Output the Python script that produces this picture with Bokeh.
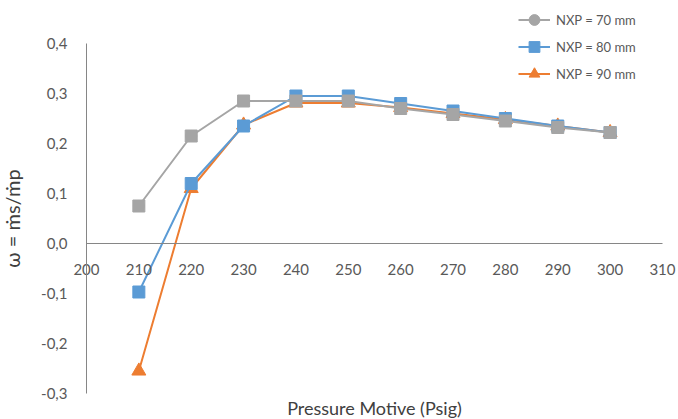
from bokeh.plotting import figure
from bokeh.models import LinearAxis, FixedTicker, Legend, LegendItem, Label, ColumnDataSource
from bokeh.embed import file_html
from bokeh.resources import INLINE

pressure = [210, 220, 230, 240, 250, 260, 270, 280, 290, 300]
nxp70 = [0.075, 0.215, 0.285, 0.285, 0.285, 0.270, 0.258, 0.245, 0.232, 0.222]
nxp80 = [-0.097, 0.120, 0.235, 0.295, 0.295, 0.280, 0.265, 0.250, 0.235, 0.222]
nxp90 = [-0.255, 0.110, 0.237, 0.281, 0.281, 0.272, 0.260, 0.248, 0.235, 0.222]

x_ticks = [200, 210, 220, 230, 240, 250, 260, 270, 280, 290, 300, 310]
y_ticks = [-0.3, -0.2, -0.1, 0.0, 0.1, 0.2, 0.3, 0.4]
y_tick_labels = ["-0,3", "-0,2", "-0,1", "0,0", "0,1", "0,2", "0,3", "0,4"]
series_names = ["NXP = 70 mm", "NXP = 80 mm", "NXP = 90 mm"]
x_label = "Pressure Motive (Psig)"
y_label = "ω = ṁs/ṁp"

FONT = "Lato"
TICK_COLOR = "#595959"
AXIS_COLOR = "#868686"

p = figure(width=678, height=419, output_backend="svg", toolbar_location=None,
           x_range=(183.58, 313.06), y_range=(-0.352, 0.486),
           x_axis_location=None, y_axis_location=None,
           min_border_top=0, min_border_right=0, min_border_left=0, min_border_bottom=0)
p.outline_line_color = None
p.grid.visible = False
p.background_fill_color = "white"

# y axis at x = 200
yax = LinearAxis(fixed_location=200, bounds=(-0.3, 0.4), ticker=FixedTicker(ticks=y_ticks))
yax.major_label_overrides = {t: l for t, l in zip(y_ticks, y_tick_labels)}
yax.minor_tick_line_color = None
yax.major_tick_line_color = None
yax.axis_line_color = AXIS_COLOR
yax.major_label_text_font = FONT
yax.major_label_text_font_size = "15px"
yax.major_label_text_color = TICK_COLOR
yax.major_label_standoff = 13
yax.axis_label = y_label
yax.axis_label_text_font = FONT
yax.axis_label_text_font_style = "normal"
yax.axis_label_text_font_size = "20px"
yax.axis_label_text_color = "#404040"
yax.axis_label_standoff = 14
p.add_layout(yax, "left")

# x axis at y = 0
xax = LinearAxis(fixed_location=0, bounds=(200, 310), ticker=FixedTicker(ticks=x_ticks))
xax.minor_tick_line_color = None
xax.major_tick_line_color = None
xax.axis_line_color = AXIS_COLOR
xax.major_label_text_font = FONT
xax.major_label_text_font_size = "15px"
xax.major_label_text_color = TICK_COLOR
xax.major_label_standoff = 14
p.add_layout(xax, "below")

p.add_layout(Label(x=255, y=-0.3, y_offset=-3, text=x_label, text_align="center",
                   text_baseline="top", text_font=FONT, text_font_size="18px",
                   text_color="#404040"))

src = ColumnDataSource(dict(x=pressure, a=nxp70, b=nxp80, c=nxp90))

gray, blue, orange = "#A5A5A5", "#5B9BD5", "#ED7D31"

l90 = p.line("x", "c", source=src, color=orange, line_width=2)
m90 = p.scatter("x", "c", source=src, marker="triangle", size=14, color=orange)
l80 = p.line("x", "b", source=src, color=blue, line_width=2)
m80 = p.scatter("x", "b", source=src, marker="square", size=12, color=blue)
l70 = p.line("x", "a", source=src, color=gray, line_width=2)
m70_leg = p.scatter("x", "a", source=src, marker="circle", size=11, color=gray)
m70 = p.scatter("x", "a", source=src, marker="square", size=12, color=gray)

legend = Legend(items=[
    LegendItem(label=series_names[0], renderers=[l70, m70_leg]),
    LegendItem(label=series_names[1], renderers=[l80, m80]),
    LegendItem(label=series_names[2], renderers=[l90, m90]),
], location=(518, 332), glyph_width=32, glyph_height=27, label_height=20,
   spacing=0, padding=2, label_standoff=6, border_line_color=None,
   background_fill_alpha=0, label_text_font=FONT, label_text_font_size="13px",
   label_text_color=TICK_COLOR)
p.add_layout(legend)

open("out.html", "w").write(file_html(p, INLINE))
